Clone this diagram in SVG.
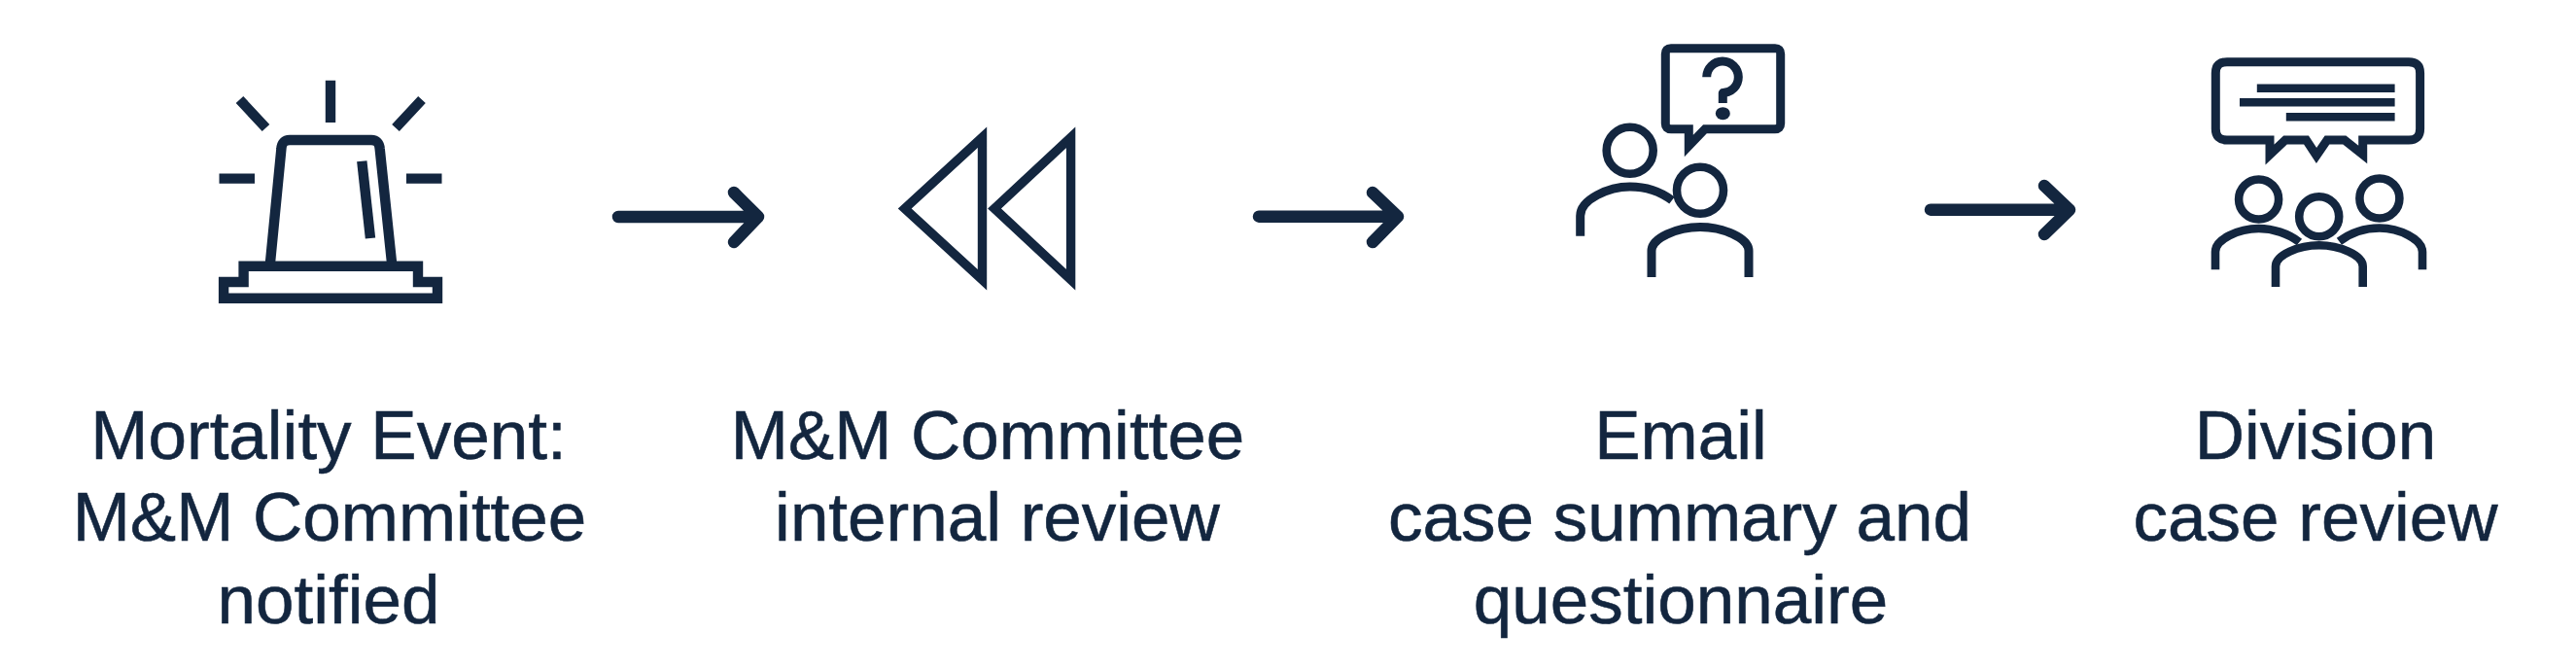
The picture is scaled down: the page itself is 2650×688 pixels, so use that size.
<svg xmlns="http://www.w3.org/2000/svg" width="2650" height="688" viewBox="0 0 2650 688">
<style>
.ln{fill:none;stroke:#13263f;stroke-width:9;stroke-linejoin:round}
.bb{fill:none;stroke:#13263f;stroke-width:9;stroke-linejoin:miter;stroke-miterlimit:10}
.mi{fill:none;stroke:#13263f;stroke-width:9.4;stroke-linejoin:miter;stroke-miterlimit:10}
.al{fill:none;stroke:#13263f;stroke-width:10.4;stroke-linejoin:miter;stroke-miterlimit:10}
.hd{stroke-width:8.6}
.ar{fill:none;stroke:#13263f;stroke-width:12.5;stroke-linecap:round;stroke-linejoin:round}
text{font-family:"Liberation Sans",Arial,sans-serif;font-size:71px;fill:#13263f;stroke:#13263f;stroke-width:.6;text-anchor:middle}
</style>
<rect width="2650" height="688" fill="#fff"/>
<g id="connectors">
<path class="ar" d="M636 223H780M755 198L780 223L755 249"/>
<path class="ar" d="M1295 222.7H1438M1412 198L1438 222.7L1412 249"/>
<path class="ar" d="M1986 215.7H2129M2103 191L2129 215.7L2103 241"/>
</g>
<g id="node-alarm">
<path class="al" d="M340 82.7V126M246.5 102.5L273.5 131.5M434 102.5L407 131.5M225.5 183.6H262M418 183.6H454.5"/>
<path class="al" stroke-linejoin="round" d="M278 270L289.4 153Q290 144 298 144H382Q390 144 390.7 153L403 270"/>
<path class="al" d="M372.3 165.7L381 245"/>
<path class="al" d="M250.6 290V273.7H430V290H450V306.7H230.1V290Z"/>
<text x="338" y="471.7">Mortality Event:</text>
<text x="339" y="556">M&amp;M Committee</text>
<text x="338" y="640.7">notified</text>
</g>
<g id="node-rewind">
<path class="mi" d="M1010.5 141.3V287.7L930.7 214.5Z"/>
<path class="mi" d="M1101.6 141.3V287.7L1023 214.5Z"/>
<text x="1016" y="471.7">M&amp;M Committee</text>
<text x="1026" y="556">internal review</text>
</g>
<g id="node-email">
<path class="bb" d="M1719 49.7H1826Q1831.7 49.7 1831.7 55.4V127Q1831.7 132.7 1826 132.7H1754L1737.3 150V132.7H1719Q1713.3 132.7 1713.3 127V55.4Q1713.3 49.7 1719 49.7Z"/>
<path class="ln" d="M1755.7 79.3A16.3 16.3 0 1 1 1772.3 95.6V106"/>
<ellipse cx="1772.3" cy="116.7" rx="7.5" ry="6.5" fill="#13263f"/>
<circle class="ln hd" cx="1676.7" cy="154.7" r="24"/>
<path class="ln" d="M1625.7 242.7V222C1625.7 205 1655 192 1676.7 192C1692 192 1708 197 1720 206"/>
<circle class="ln hd" cx="1749" cy="195.7" r="24"/>
<path class="ln" d="M1699 285V258C1699 245 1725 233.5 1749 233.5C1773 233.5 1799 245 1799 258V285"/>
<text x="1729" y="471.7">Email</text>
<text x="1728" y="556">case summary and</text>
<text x="1729" y="640.7">questionnaire</text>
</g>
<g id="node-division">
<path class="bb" d="M2291 63.7H2478Q2489.6 63.7 2489.6 75V132.5Q2489.6 144 2478 144H2430.7V159L2411.8 144H2394L2383 160L2372.5 144H2351L2335 159V144H2291Q2279.3 144 2279.3 132.5V75Q2279.3 63.7 2291 63.7Z"/>
<path class="ln" style="stroke-width:8.4" d="M2321.8 90.7H2463.6M2304 105.3H2463.6M2351.8 120.3H2463.6"/>
<circle class="ln hd" cx="2323.6" cy="205" r="20.5"/>
<circle class="ln hd" cx="2385.7" cy="222.7" r="20.5"/>
<circle class="ln hd" cx="2447.9" cy="204" r="20.5"/>
<path class="ln hd" d="M2279 277.3V259C2279 246 2303 235 2323.6 235C2338 235 2354 240 2365.4 249"/>
<path class="ln hd" d="M2492 277.3V259C2492 246 2468 234.5 2447.9 234.5C2433 234.5 2418 239.5 2406.4 248.3"/>
<path class="ln hd" d="M2341 295V274C2341 262 2365 252.3 2385.7 252.3C2406 252.3 2430.7 262 2430.7 274V295"/>
<text x="2382" y="471.7">Division</text>
<text x="2382" y="556">case review</text>
</g>
</svg>
